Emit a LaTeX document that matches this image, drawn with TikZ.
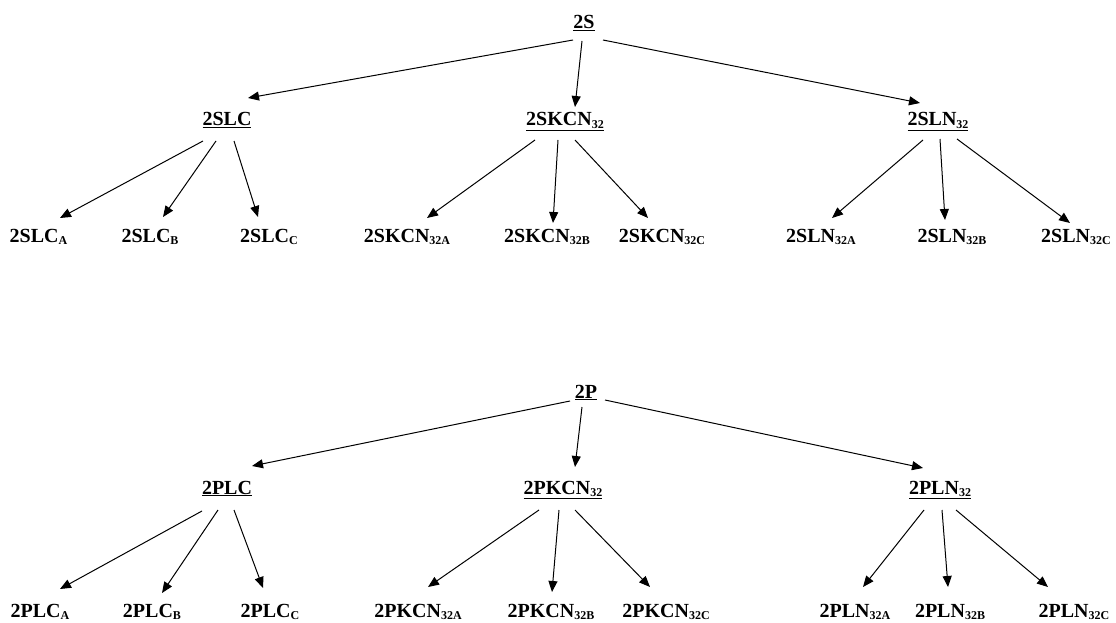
\documentclass[tikz,border=0pt]{standalone}
\usepackage{fontspec}
\setmainfont{Liberation Serif}
\usetikzlibrary{arrows.meta,calc}
\newcommand\lsub[1]{\raisebox{-2.5pt}{\fontsize{12}{12}\selectfont #1}}
\newcommand\myconn[6]{\draw[conn] ($(#1.base)+(#2,#3)$) -- ($(#4.base)+(#5,#6)$);}
\tikzset{
  lbl/.style={anchor=base,inner sep=0pt,font=\fontsize{20}{21}\selectfont\bfseries},
  conn/.style={line width=1pt,-{Triangle[length=11pt,width=9pt]}}
}
\begin{document}
\begin{tikzpicture}[x=1pt,y=-1pt]
\useasboundingbox[fill=white] (0,0) rectangle (1116,623);
% ---------- top tree ----------
\node[lbl] (S) at (584,29) {\underline{2S}};
\node[lbl] (SLC) at (227,126) {\underline{2SLC}};
\node[lbl] (SKCN) at (565,126) {\underline{2SKCN\lsub{32}}};
\node[lbl] (SLN) at (938,126) {\underline{2SLN\lsub{32}}};
\node[lbl] (SLCA) at (38.5,242) {2SLC\lsub{A}};
\node[lbl] (SLCB) at (150,242) {2SLC\lsub{B}};
\node[lbl] (SLCC) at (269,242) {2SLC\lsub{C}};
\node[lbl] (SKCNA) at (407,242) {2SKCN\lsub{32A}};
\node[lbl] (SKCNB) at (547,242) {2SKCN\lsub{32B}};
\node[lbl] (SKCNC) at (662,242) {2SKCN\lsub{32C}};
\node[lbl] (SLNA) at (821,242) {2SLN\lsub{32A}};
\node[lbl] (SLNB) at (952,242) {2SLN\lsub{32B}};
\node[lbl] (SLNC) at (1076,242) {2SLN\lsub{32C}};
\myconn{S}{-11}{11}{SLC}{21}{-28}
\myconn{S}{-2}{12}{SKCN}{10}{-19}
\myconn{S}{19}{11}{SLN}{-18}{-23}
\myconn{SLC}{-24}{15}{SLCA}{21.5}{-24}
\myconn{SLC}{-11}{15}{SLCB}{13}{-25}
\myconn{SLC}{7}{15}{SLCC}{-11}{-25}
\myconn{SKCN}{-30}{14}{SKCNA}{20}{-24}
\myconn{SKCN}{-7}{14}{SKCNB}{6}{-19}
\myconn{SKCN}{10}{14}{SKCNC}{-14}{-24}
\myconn{SLN}{-15}{14}{SLNA}{11}{-24}
\myconn{SLN}{2}{13}{SLNB}{-7}{-22}
\myconn{SLN}{19}{13}{SLNC}{-6}{-19}
% ---------- bottom tree ----------
\node[lbl] (P) at (586,398) {\underline{2P}};
\node[lbl] (PLC) at (227,494) {\underline{2PLC}};
\node[lbl] (PKCN) at (563,494) {\underline{2PKCN\lsub{32}}};
\node[lbl] (PLN) at (940,494) {\underline{2PLN\lsub{32}}};
\node[lbl] (PLCA) at (40,617) {2PLC\lsub{A}};
\node[lbl] (PLCB) at (152,617) {2PLC\lsub{B}};
\node[lbl] (PLCC) at (270,617) {2PLC\lsub{C}};
\node[lbl] (PKCNA) at (418,617) {2PKCN\lsub{32A}};
\node[lbl] (PKCNB) at (551,617) {2PKCN\lsub{32B}};
\node[lbl] (PKCNC) at (666,617) {2PKCN\lsub{32C}};
\node[lbl] (PLNA) at (855,617) {2PLN\lsub{32A}};
\node[lbl] (PLNB) at (950,617) {2PLN\lsub{32B}};
\node[lbl] (PLNC) at (1074,617) {2PLN\lsub{32C}};
\myconn{P}{-16}{3}{PLC}{25}{-28}
\myconn{P}{-4}{9}{PKCN}{12}{-27}
\myconn{P}{19}{2}{PLN}{-17}{-26}
\myconn{PLC}{-25}{17}{PLCA}{20}{-28}
\myconn{PLC}{-9}{16}{PLCB}{10}{-24}
\myconn{PLC}{7}{16}{PLCC}{-7}{-29}
\myconn{PKCN}{-24}{16}{PKCNA}{10}{-30}
\myconn{PKCN}{-4}{16}{PKCNB}{1}{-25}
\myconn{PKCN}{12}{16}{PKCNC}{-16}{-30}
\myconn{PLN}{-16}{16}{PLNA}{8}{-30}
\myconn{PLN}{2}{16}{PLNB}{-2}{-30}
\myconn{PLN}{16}{16}{PLNC}{-26}{-30}
\end{tikzpicture}
\end{document}
